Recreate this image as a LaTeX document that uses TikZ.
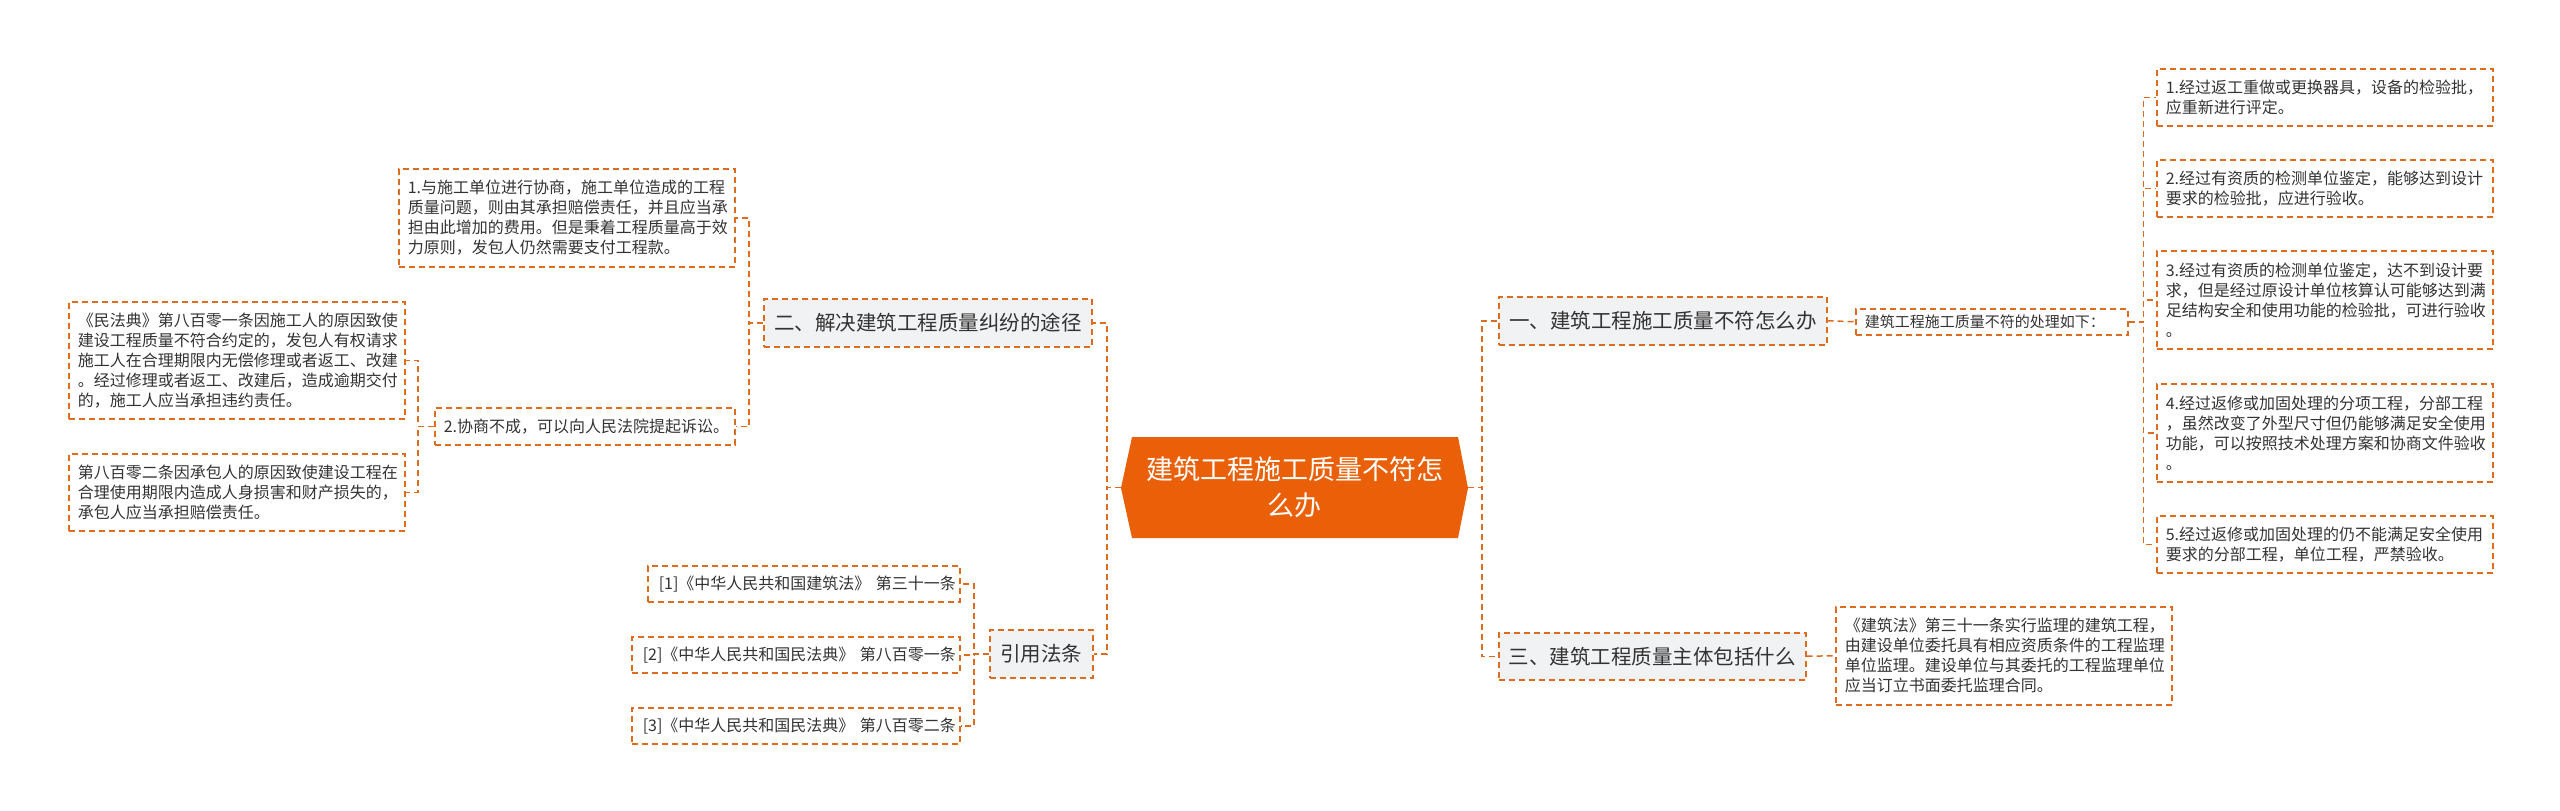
\documentclass[tikz,border=0pt]{standalone}
\usepackage{fontspec}
\setmainfont{Noto Sans CJK SC}
\definecolor{lc}{HTML}{DD6B20}
\definecolor{cf}{HTML}{E96008}
\definecolor{tf}{HTML}{F1F2F4}
\definecolor{tc}{HTML}{333333}
\tikzset{
 dl/.style={draw=lc, line width=1.5pt, dash pattern=on 6pt off 4pt},
 leaf/.style={dl, anchor=north west, inner xsep=9pt, inner ysep=0pt, align=left, text=tc, font=\fontsize{16}{20}\selectfont},
 cite/.style={leaf, inner xsep=11pt},
 topic/.style={dl, fill=tf, anchor=north west, inner sep=0pt, align=center, text=tc, font=\fontsize{20.5}{24}\selectfont},
 conn/.style={dl},
}
\begin{document}
\begin{tikzpicture}[x=1pt,y=-1pt]
\fill[white] (0,0) rectangle (2560,811);
\useasboundingbox (0,0) rectangle (2560,811);
% center
\fill[cf] (1121,488) -- (1132,437) -- (1458,437) -- (1468,488) -- (1458,538) -- (1132,538) -- cycle;
\node[minimum width=347pt, minimum height=101pt, inner sep=0pt, text=white, font=\fontsize{27}{36}\selectfont, align=center] (c) at (1294.5,487.5) {建筑工程施工质量不符怎\\么办};
% right side
\node[topic, minimum width=328pt, minimum height=48pt] (t1) at (1498,296) {一、建筑工程施工质量不符怎么办};
\node[leaf, text width=254pt, minimum height=26pt, font=\fontsize{15}{18}\selectfont] (ru) at (1855,308) {建筑工程施工质量不符的处理如下：};
\node[leaf, text width=318pt, minimum height=57pt] (r1) at (2156,68) {1.经过返工重做或更换器具，设备的检验批，\\应重新进行评定。};
\node[leaf, text width=318pt, minimum height=57pt] (r2) at (2156,159) {2.经过有资质的检测单位鉴定，能够达到设计\\要求的检验批，应进行验收。};
\node[leaf, text width=318pt, minimum height=98pt] (r3) at (2156,250) {3.经过有资质的检测单位鉴定，达不到设计要\\求，但是经过原设计单位核算认可能够达到满\\足结构安全和使用功能的检验批，可进行验收\\。};
\node[leaf, text width=318pt, minimum height=98pt] (r4) at (2156,383) {4.经过返修或加固处理的分项工程，分部工程\\，虽然改变了外型尺寸但仍能够满足安全使用\\功能，可以按照技术处理方案和协商文件验收\\。};
\node[leaf, text width=318pt, minimum height=57pt] (r5) at (2156,515) {5.经过返修或加固处理的仍不能满足安全使用\\要求的分部工程，单位工程，严禁验收。};
\node[topic, minimum width=307pt, minimum height=47pt] (t3) at (1498,632) {三、建筑工程质量主体包括什么};
\node[leaf, text width=318pt, minimum height=98pt] (law) at (1835,606) {《建筑法》第三十一条实行监理的建筑工程，\\由建设单位委托具有相应资质条件的工程监理\\单位监理。建设单位与其委托的工程监理单位\\应当订立书面委托监理合同。};
% left side
\node[topic, minimum width=328pt, minimum height=48pt] (t2) at (763,298) {二、解决建筑工程质量纠纷的途径};
\node[leaf, text width=318pt, minimum height=98pt] (l1) at (398,168) {1.与施工单位进行协商，施工单位造成的工程\\质量问题，则由其承担赔偿责任，并且应当承\\担由此增加的费用。但是秉着工程质量高于效\\力原则，发包人仍然需要支付工程款。};
\node[leaf, text width=282pt, minimum height=37pt] (l2) at (434,407) {2.协商不成，可以向人民法院提起诉讼。};
\node[leaf, text width=318pt, minimum height=117pt] (m1) at (68,301) {《民法典》第八百零一条因施工人的原因致使\\建设工程质量不符合约定的，发包人有权请求\\施工人在合理期限内无偿修理或者返工、改建\\。经过修理或者返工、改建后，造成逾期交付\\的，施工人应当承担违约责任。};
\node[leaf, text width=318pt, minimum height=77pt] (m2) at (68,453) {第八百零二条因承包人的原因致使建设工程在\\合理使用期限内造成人身损害和财产损失的，\\承包人应当承担赔偿责任。};
\node[topic, minimum width=103pt, minimum height=48pt] (tq) at (989,629) {引用法条};
\node[cite, text width=290pt, minimum height=36pt] (c1) at (647,565) {[1]《中华人民共和国建筑法》~第三十一条};
\node[cite, text width=306pt, minimum height=36pt] (c2) at (631,636) {[2]《中华人民共和国民法典》~第八百零一条};
\node[cite, text width=306pt, minimum height=36pt] (c3) at (631,707) {[3]《中华人民共和国民法典》~第八百零二条};
% connectors
\draw[conn] (c.west) -- ++(-14,0) |- (t2.east);
\draw[conn] (c.west) -- ++(-14,0) |- (tq.east);
\draw[conn] (c.east) -- ++(14,0) |- (t1.west);
\draw[conn] (c.east) -- ++(14,0) |- (t3.west);
\draw[conn] (t1.east) -- (ru.west);
\foreach \n in {r1,r2,r3,r4,r5} \draw[conn] (ru.east) -- ++(15,0) |- (\n.west);
\draw[conn] (t3.east) -- (law.west);
\draw[conn] (t2.west) -- ++(-14,0) |- (l1.east);
\draw[conn] (t2.west) -- ++(-14,0) |- (l2.east);
\draw[conn] (l2.west) -- ++(-16,0) |- (m1.east);
\draw[conn] (l2.west) -- ++(-16,0) |- (m2.east);
\foreach \n in {c1,c2,c3} \draw[conn] (tq.west) -- ++(-15,0) |- (\n.east);
\end{tikzpicture}
\end{document}
